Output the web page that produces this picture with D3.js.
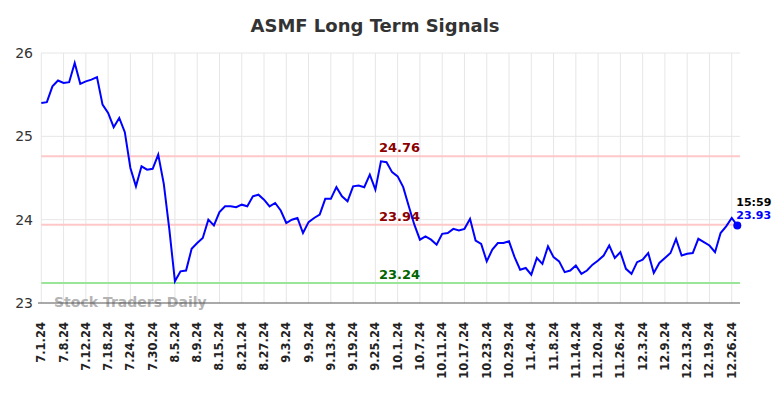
<!DOCTYPE html>
<html><head><meta charset="utf-8">
<script src="https://cdn.jsdelivr.net/npm/d3@7"></script>
<style>body{margin:0;background:#fff;}svg{display:block;font-family:"DejaVu Sans",sans-serif;}</style>
</head><body><svg id="c" width="784" height="398"></svg>
<script>
const tickLabels = ["7.1.24","7.8.24","7.12.24","7.18.24","7.24.24","7.30.24","8.5.24","8.9.24","8.15.24","8.21.24","8.27.24","9.3.24","9.9.24","9.13.24","9.19.24","9.25.24","10.1.24","10.7.24","10.11.24","10.17.24","10.23.24","10.29.24","11.4.24","11.8.24","11.14.24","11.20.24","11.26.24","12.3.24","12.9.24","12.13.24","12.19.24","12.26.24"];
const tickStep = 4;
const prices = [25.40,25.41,25.60,25.67,25.64,25.65,25.88,25.63,25.66,25.68,
25.71,25.38,25.28,25.11,25.22,25.05,24.62,24.40,24.64,24.60,
24.61,24.78,24.43,23.88,23.26,23.38,23.39,23.65,23.72,23.78,
24.00,23.93,24.09,24.16,24.16,24.15,24.18,24.16,24.28,24.30,
24.24,24.16,24.20,24.11,23.96,24.00,24.02,23.84,23.97,24.02,
24.06,24.25,24.25,24.39,24.28,24.22,24.40,24.41,24.39,24.54,
24.36,24.70,24.69,24.57,24.52,24.39,24.16,23.94,23.76,23.80,
23.76,23.70,23.83,23.84,23.89,23.87,23.89,24.01,23.75,23.71,
23.50,23.64,23.72,23.72,23.74,23.55,23.40,23.42,23.34,23.54,
23.47,23.68,23.55,23.50,23.37,23.39,23.45,23.35,23.39,23.46,
23.51,23.57,23.69,23.54,23.61,23.41,23.35,23.49,23.52,23.60,
23.36,23.48,23.54,23.60,23.77,23.57,23.59,23.60,23.77,23.73,
23.69,23.61,23.84,23.92,24.02,23.93];
const yTicks = [23,24,25,26];
const levels = [
  {v:24.76, line:"#ffc8c8", text:"#8b0000"},
  {v:23.94, line:"#ffc8c8", text:"#8b0000"},
  {v:23.24, line:"#99e699", text:"#006400"}];
const lastTime = "15:59";
const lastPrice = 23.93;

const svg = d3.select("#c");
const L = 41.3, R = 740, T = 53, B = 303;
const x = d3.scaleLinear().domain([0, 125]).range([L, L + 125*5.568]);
const y = d3.scaleLinear().domain([23, 26]).range([B, T]);

svg.append("text").attr("x", 375).attr("y", 32).attr("text-anchor","middle")
  .attr("font-size", 18).attr("font-weight","bold").attr("fill","#333").text("ASMF Long Term Signals");

// grid
const tickIdx = tickLabels.map((d,i)=>i*tickStep);
svg.append("g").selectAll("line").data(tickIdx).join("line")
  .attr("x1", d=>x(d)).attr("x2", d=>x(d)).attr("y1", T).attr("y2", B)
  .attr("stroke","#e6e6e6").attr("stroke-width",1);
svg.append("g").selectAll("line").data(yTicks.filter(d=>d>23)).join("line")
  .attr("x1", L).attr("x2", R).attr("y1", d=>y(d)).attr("y2", d=>y(d))
  .attr("stroke","#e6e6e6").attr("stroke-width",1);

// y labels
svg.append("g").selectAll("text").data(yTicks).join("text")
  .attr("x", 33).attr("y", d=>y(d)+5).attr("text-anchor","end")
  .attr("font-size", 14).attr("fill","#333").text(d=>d);

// level lines
svg.append("g").selectAll("line").data(levels).join("line")
  .attr("x1", L).attr("x2", R).attr("y1", d=>y(d.v)).attr("y2", d=>y(d.v))
  .attr("stroke", d=>d.line).attr("stroke-width", 2);

// watermark
svg.append("text").attr("x", 54).attr("y", 307).attr("font-size", 14).attr("font-weight","bold")
  .attr("fill","#aaa").attr("fill-opacity",0.9).text("Stock Traders Daily");

// axis line
svg.append("line").attr("x1", 38).attr("x2", R).attr("y1", B).attr("y2", B)
  .attr("stroke","#555").attr("stroke-width",1.2);

// level labels
svg.append("g").selectAll("text").data(levels).join("text")
  .attr("x", 399.5).attr("y", d=>y(d.v)-4).attr("text-anchor","middle")
  .attr("font-size", 13).attr("font-weight","bold").attr("fill", d=>d.text)
  .text(d=>d.v.toFixed(2));

// x labels
svg.append("g").selectAll("text").data(tickLabels).join("text")
  .attr("transform", (d,i)=>`translate(${x(i*tickStep)+4},322) rotate(-90)`)
  .attr("text-anchor","end").attr("font-size", 11.5).attr("font-weight","bold")
  .attr("fill","#222").text(d=>d);

// price line
svg.append("path").datum(prices)
  .attr("d", d3.line().x((d,i)=>x(i)).y(d=>y(d)))
  .attr("fill","none").attr("stroke","#0000ff").attr("stroke-width",2);

const li = prices.length-1;
svg.append("circle").attr("cx", x(li)).attr("cy", y(prices[li])).attr("r", 4).attr("fill","#0000ff");
svg.append("text").attr("x", x(li)-1).attr("y", 206).attr("font-size", 11).attr("font-weight","bold")
  .attr("fill","#000").text(lastTime);
svg.append("text").attr("x", x(li)-1).attr("y", 219).attr("font-size", 11).attr("font-weight","bold")
  .attr("fill","#0000ff").text(lastPrice.toFixed(2));
</script></body></html>
